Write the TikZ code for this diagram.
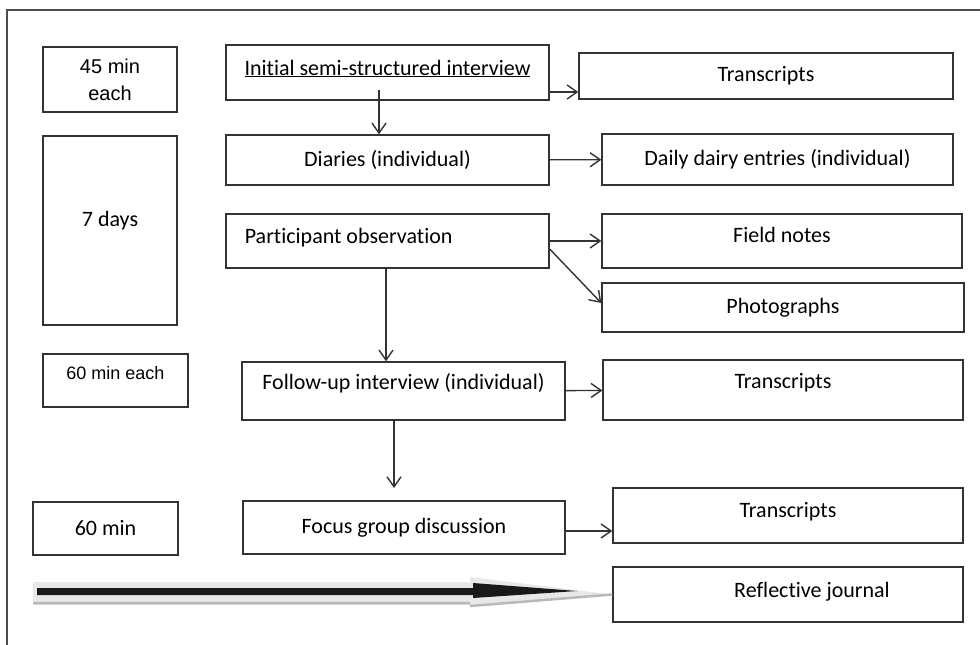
\documentclass[tikz,border=0pt]{standalone}
\usepackage{fontspec}
\setmainfont{Carlito}[Ligatures=NoCommon]
\newfontfamily\arialfont{Liberation Sans}
\usetikzlibrary{arrows.meta}

\begin{document}
\begin{tikzpicture}[
        x=1pt, y=-1pt,
        font=\fontsize{22}{26}\selectfont,
        box/.style={
        rectangle, draw=black!80,
        line width=1.4pt, inner sep=0pt,
        fill=white},
        link/.style={
        draw=black!80, line width=1.4pt,
        -{Straight Barb[length=10pt,width=14pt]}},
        ]

        \useasboundingbox (0,0) rectangle (980,645);
        \draw [black!70, line width=1.4pt] (7,645) -- (7,10) -- (980,10);

        \node (min45) [box, minimum width=134, minimum height=65, align=center, font=\arialfont\fontsize{20}{27}\selectfont]  at (110,79.5){45 min\\each};
        \node (days7) [box, minimum width=134, minimum height=189, label={[yshift=10]center:7 days}]  at (110,230.5){};
        \node (min60each) [box, minimum width=145, minimum height=53, label={[yshift=7, font=\arialfont\fontsize{18}{22}\selectfont]center:60 min each}]  at (115.5,380.5){};
        \node (min60) [box, minimum width=145, minimum height=53]  at (105.5,528.5){60 min};

        \node (init) [box, minimum width=323, minimum height=55, label={[yshift=4]center:\underline{Initial semi-structured interview}}]  at (387.5,72.5){};
        \node (diaries) [box, minimum width=323, minimum height=50]  at (387.5,160){Diaries (individual)};
        \node (partobs) [box, minimum width=323, minimum height=54, label={[anchor=west, xshift=16, yshift=3]west:Participant observation}]  at (387.5,241){};
        \node (followup) [box, minimum width=323, minimum height=58, label={[yshift=8]center:Follow-up interview (individual)}]  at (403.5,391){};
        \node (focus) [box, minimum width=322, minimum height=53]  at (404,527.5){Focus group discussion};

        \node (trans1) [box, minimum width=374, minimum height=46]  at (766,76){Transcripts};
        \node (daily) [box, minimum width=351, minimum height=51]  at (777.5,159.5){Daily dairy entries (individual)};
        \node (field) [box, minimum width=360, minimum height=54, label={[yshift=6]center:Field notes}]  at (782,241){};
        \node (photos) [box, minimum width=362, minimum height=49]  at (783,307.5){Photographs};
        \node (trans2) [box, minimum width=360, minimum height=60, label={[yshift=7]center:Transcripts}]  at (783,390){};
        \node (trans3) [box, minimum width=350, minimum height=55, label={[yshift=4]center:Transcripts}]  at (788,515.5){};
        \node (journal) [box, minimum width=350, minimum height=55, label={[xshift=24, yshift=3]center:Reflective journal}]  at (788,594.5){};

        \coordinate (initout) at (379,90);
        \coordinate (focusin) at (394,488);

        \draw [link] (initout) -- (initout |- diaries.north);
        \draw [link] ([yshift=-19.5]init.east) -- ([yshift=-16]trans1.west);
        \draw [link] (diaries) -- (daily);
        \draw [link] (partobs) -- (field);
        \draw [link] ([yshift=-8]partobs.east) -- ([yshift=4.5]photos.west);
        \draw [link] ([xshift=-1.5]partobs.south) -- ([xshift=-1.5]partobs.south |- followup.north);
        \draw [link] (followup) -- (trans2);
        \draw [link] (followup.south -| focusin) -- (focusin);
        \draw [link] ([yshift=-3.5]focus.east) -- ([yshift=-15.5]trans3.west);

        \fill [gray!18] (33,582) -- (470,582) -- (470,577) -- (journal.west) -- (470,607) -- (470,605) -- (33,605) -- cycle;
        \draw [gray!55, line width=2.5pt] (33,603) -- (470,603) (470,606) -- (journal.west);
        \fill [black!90] (37,588) -- (473,588) -- (473,583) -- (577,591) -- (473,598) -- (473,595) -- (37,595) -- cycle;
    \end{tikzpicture}
\end{document}
